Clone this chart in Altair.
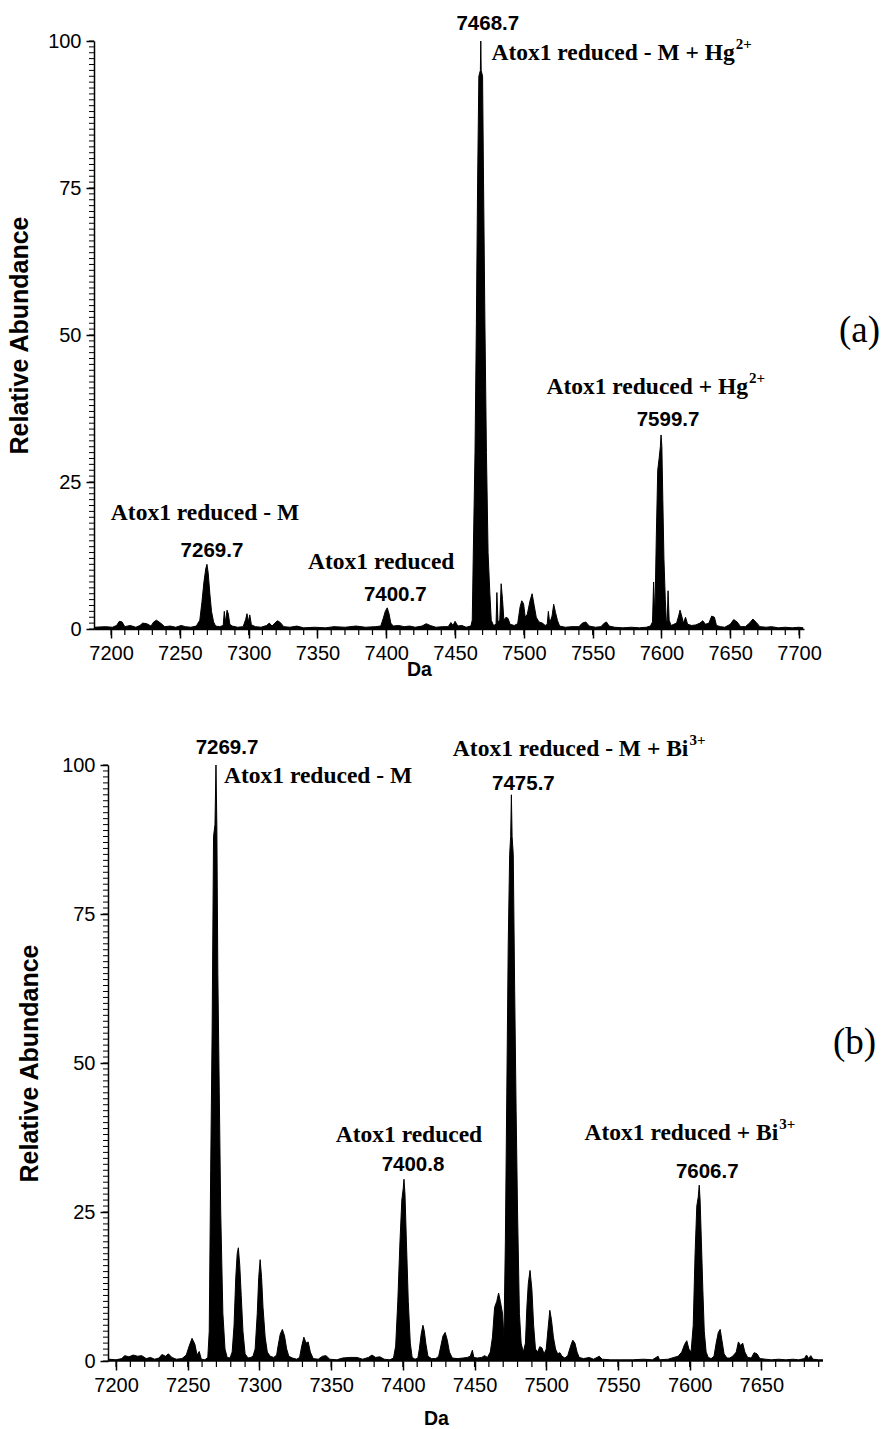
import altair as alt
import pandas as pd

# ---------------- spectrum (a): Atox1 + Hg2+ ----------------
A_MASS = [7188, 7196, 7201, 7204, 7206, 7208, 7210, 7214, 7218, 7221, 7223, 7226, 7229, 7231, 7233, 7236,
          7239, 7243, 7247, 7251, 7254, 7258, 7262, 7264.5, 7266, 7267.5, 7268.8, 7269.7, 7270.6, 7271.8,
          7273, 7274.5, 7276, 7279, 7281.5, 7282.3, 7283, 7284.3, 7285.2, 7286.3, 7288, 7292, 7296, 7297.8,
          7298.8, 7299.8, 7300.8, 7302, 7305, 7309, 7313, 7315, 7317, 7319, 7321, 7323, 7325.5, 7330, 7335,
          7340, 7348, 7356, 7362, 7370, 7378, 7385, 7392, 7396, 7397.8, 7399.3, 7400.7, 7402, 7403.3, 7405,
          7409, 7413, 7417, 7421, 7426, 7429, 7432, 7436, 7441, 7445, 7447, 7448.5, 7450, 7452, 7455, 7458,
          7461.5, 7462.5, 7463.2, 7464.5, 7465.5, 7466.4, 7467.3, 7468.4, 7468.7, 7469.0, 7470.0, 7470.7,
          7471.7, 7472.8, 7474, 7475.3, 7476.3, 7478, 7479.8, 7480.4, 7481.2, 7482.5, 7483.5, 7484.5, 7485.5,
          7487, 7488.5, 7490, 7493, 7495.5, 7497.3, 7498.5, 7499.8, 7501, 7502.5, 7504.5, 7506, 7507.5, 7509,
          7511, 7513.5, 7515.5, 7517, 7517.8, 7518.8, 7520.5, 7521.7, 7523, 7524.5, 7526, 7530, 7535, 7540,
          7542.5, 7545, 7547.5, 7552, 7556, 7558.5, 7560, 7562, 7566, 7572, 7578, 7584, 7589, 7592, 7593.5,
          7594.3, 7595.2, 7596.3, 7597.3, 7598.3, 7599.2, 7599.7, 7600.3, 7601, 7601.8, 7602.8, 7603.5,
          7604.2, 7604.8, 7605.6, 7607, 7609, 7611, 7612.5, 7613.5, 7614.5, 7616, 7617.5, 7619, 7622, 7625,
          7628, 7630, 7632, 7634.5, 7636.5, 7638.5, 7640, 7643, 7646, 7650, 7652.5, 7655, 7657.5, 7661, 7664,
          7666.5, 7669, 7671.5, 7676, 7680, 7685, 7690, 7695, 7700, 7703]
A_ABUND = [0.3, 0.4, 0.3, 0.6, 1.3, 1.2, 0.4, 0.6, 0.3, 0.6, 1.0, 0.9, 0.5, 1.2, 1.5, 1.0,
           0.4, 0.5, 0.3, 0.6, 0.4, 0.3, 0.5, 1.5, 4.5, 8.0, 10.2, 11.0, 9.5, 6.0,
           3.0, 1.2, 0.5, 0.4, 0.6, 3.0, 1.0, 3.2, 2.6, 0.8, 0.5, 0.3, 0.4, 1.6,
           2.6, 1.2, 2.4, 0.7, 0.4, 0.3, 0.6, 1.0, 0.5, 1.0, 1.4, 1.1, 0.4, 0.3, 0.5,
           0.2, 0.3, 0.2, 0.4, 0.3, 0.5, 0.3, 0.4, 0.5, 1.8, 3.0, 3.6, 2.6, 1.0, 0.5,
           0.6, 0.4, 0.5, 0.3, 0.5, 0.9, 0.6, 0.3, 0.4, 0.4, 1.1, 0.6, 1.3, 0.5, 0.6, 0.3,
           0.5, 1.5, 12, 30, 52, 76, 94, 95, 100, 95, 94, 76,
           52, 30, 13, 6, 1.5, 0.6, 0.8, 6.2, 1.2, 1.5, 7.7, 5.0, 1.5,
           2.0, 1.8, 0.8, 0.6, 0.9, 3.8, 4.8, 4.3, 2.0, 2.5, 4.8, 6.0, 4.0, 2.0,
           1.2, 1.0, 0.6, 0.8, 3.0, 1.0, 2.2, 4.2, 2.8, 1.4, 0.5, 0.3, 0.4, 0.4,
           1.0, 1.2, 0.5, 0.3, 0.4, 1.0, 1.2, 0.5, 0.3, 0.2, 0.3, 0.2, 0.3, 0.5, 1.2,
           8.0, 2.0, 16, 27, 29, 31, 33, 31, 22, 12, 5.0, 1.5,
           1.2, 6.5, 1.5, 0.6, 0.8, 1.0, 2.2, 3.2, 2.4, 1.0, 2.0, 0.8, 0.6, 0.7,
           1.0, 1.4, 0.8, 1.0, 2.2, 2.0, 0.6, 0.4, 0.3, 0.8, 1.6, 1.2, 0.4, 0.4, 1.0,
           1.7, 1.1, 0.4, 0.3, 0.4, 0.2, 0.3, 0.2, 0.3, 0.2]

A_PEAKS = [7269.7, 7400.7, 7468.7, 7599.7]
A_SPECIES = ["Atox1 reduced - M", "Atox1 reduced", "Atox1 reduced - M + Hg", "Atox1 reduced + Hg"]
A_CHARGE = ["", "", "2+", "2+"]

# ---------------- spectrum (b): Atox1 + Bi3+ ----------------
B_MASS = [7195, 7200, 7204, 7206, 7209, 7212, 7215, 7218, 7221, 7224, 7227, 7230, 7232, 7234.5, 7236.5,
          7239, 7242, 7246, 7249, 7251, 7253, 7255, 7256.5, 7258, 7259.5, 7262, 7264, 7265, 7266, 7267,
          7268, 7269, 7269.7, 7270.3, 7271, 7272, 7273, 7274.5, 7276, 7277.5, 7279.5, 7281, 7282.3, 7283.5,
          7284.5, 7285.3, 7286.3, 7287.3, 7288.5, 7290, 7292, 7294, 7295.5, 7297, 7298.5, 7299.5, 7300.5,
          7301.5, 7302.5, 7304, 7305.5, 7307.5, 7310, 7312, 7313, 7314.5, 7316, 7317.5, 7319, 7320.5, 7323,
          7326, 7328, 7329.5, 7331, 7332.5, 7334, 7335.5, 7337.5, 7341, 7344, 7346.5, 7349, 7354, 7358,
          7363, 7368, 7372, 7376, 7378.5, 7381, 7384, 7387, 7391, 7393.5, 7395, 7396.5, 7398, 7399.3,
          7400.3, 7400.8, 7401.5, 7402.5, 7403.8, 7405.2, 7406.5, 7408.5, 7410.5, 7411.5, 7412.8, 7414,
          7415, 7416, 7417.5, 7420, 7423, 7425, 7426.5, 7428, 7429.5, 7431, 7432.5, 7434.5, 7438, 7442,
          7445, 7447, 7448.5, 7449.5, 7452, 7455, 7457, 7459, 7461, 7462.5, 7464, 7465.5, 7466.8, 7468,
          7469.5, 7470.5, 7471.5, 7472.5, 7473.5, 7474.5, 7475.2, 7475.7, 7476.2, 7477, 7478, 7479, 7480,
          7481.3, 7482.5, 7484, 7485.5, 7486.5, 7487.5, 7488.7, 7490, 7491.2, 7492.5, 7494, 7495.5, 7497,
          7498.5, 7500, 7501.3, 7502.5, 7503.6, 7505, 7506.5, 7508, 7509.5, 7511, 7513, 7515, 7517, 7518.5,
          7520, 7521.5, 7523, 7526, 7530, 7533, 7537, 7539, 7545, 7552, 7560, 7568, 7574, 7578, 7579,
          7585, 7589, 7592, 7594.5, 7596.5, 7598, 7599.5, 7601, 7602.5, 7603.8, 7605, 7606, 7606.7, 7607.3,
          7608.2, 7609.2, 7610.2, 7611.5, 7613, 7615, 7617, 7618.5, 7620, 7621.3, 7622.5, 7624, 7626, 7628,
          7630, 7632.5, 7634, 7635.5, 7637, 7638.5, 7640.5, 7643, 7645, 7647, 7649, 7653, 7657, 7662, 7667,
          7672, 7676, 7680, 7681.5, 7683, 7684.5, 7686, 7690, 7693]
B_ABUND = [0.3, 0.2, 0.4, 0.9, 0.7, 1.0, 0.8, 0.9, 0.4, 0.6, 0.3, 0.5, 1.1, 0.8, 1.2,
           0.6, 0.3, 0.4, 1.0, 2.5, 3.8, 2.8, 1.0, 1.6, 0.3, 0.2, 0.6, 5, 32, 55,
           88, 90, 100, 90, 65, 45, 25, 8, 2, 0.6, 0.5, 1.5, 6, 14,
           18, 19, 16, 11, 5, 1.2, 0.5, 0.6, 0.8, 2, 8, 14, 17,
           14, 9, 4, 1.5, 0.8, 0.6, 1.0, 2.5, 4.5, 5.3, 4.2, 2, 0.8, 0.5,
           0.3, 0.6, 2.5, 4.0, 3.0, 3.2, 1.5, 0.4, 0.3, 0.8, 0.9, 0.3, 0.2, 0.5,
           0.6, 0.6, 0.3, 0.6, 1.0, 0.6, 0.7, 0.3, 0.2, 0.5, 2.5, 10, 20, 27,
           29, 30.5, 28, 20, 10, 3, 0.6, 0.3, 0.5, 2.0, 4.5, 6.0,
           5.0, 3.0, 0.8, 0.4, 0.4, 0.8, 2.5, 4.2, 4.8, 3.5, 1.5, 0.5, 0.4, 0.5,
           0.6, 0.8, 1.8, 0.6, 0.5, 0.6, 0.9, 0.6, 1.5, 4, 9, 10, 11.4, 10,
           8, 4, 20, 45, 70, 85, 88, 95, 88, 85, 62, 42, 25,
           8, 3, 1.5, 3, 9, 13, 15.2, 12, 6, 2, 1.5, 2.4, 2.2,
           1.2, 2, 5.5, 8.5, 7, 4, 2, 1.2, 1.4, 0.8, 0.5, 0.9, 2.5, 3.5,
           3, 1.5, 0.6, 0.4, 0.6, 0.3, 0.8, 0.3, 0.2, 0.2, 0.2, 0.3, 0.2, 0.8, 0.2,
           0.3, 0.6, 0.8, 1.5, 2.8, 3.4, 2.0, 1.5, 6, 18, 26, 27.5, 29.5, 27,
           20, 12, 5, 1.5, 0.6, 0.4, 0.8, 3, 4.8, 5.3, 3.5, 1.2, 0.5, 0.5,
           0.8, 1.5, 3.2, 2.6, 3.0, 1.5, 0.6, 0.5, 1.4, 1.2, 0.4, 0.3, 0.2, 0.3, 0.2,
           0.3, 0.2, 0.4, 1.0, 0.4, 0.9, 0.3, 0.2, 0.2]

B_PEAKS = [7269.7, 7400.8, 7475.7, 7606.7]
B_SPECIES = ["Atox1 reduced - M", "Atox1 reduced", "Atox1 reduced - M + Bi", "Atox1 reduced + Bi"]
B_CHARGE = ["", "", "3+", "3+"]

# axis ticks: labelled majors and unlabelled minors
A_X_MAJOR = [7200, 7250, 7300, 7350, 7400, 7450, 7500, 7550, 7600, 7650, 7700]
A_X_MINOR = list(range(7200, 7701, 10))
B_X_MAJOR = [7200, 7250, 7300, 7350, 7400, 7450, 7500, 7550, 7600, 7650]
B_X_MINOR = list(range(7200, 7691, 10))
Y_MAJOR = [0, 25, 50, 75, 100]
Y_MINOR = list(range(0, 101))

SANS = "Liberation Sans"
SERIF = "Liberation Serif"

# per-peak annotation placement (pixel offsets from the apex)
A_STYLE = [
    {"num": (5, -13), "name": ("center", -2, -51)},
    {"num": (8, -13), "name": ("center", -6, -46)},
    {"num": (7, -17), "name": ("right", 254, 12)},
    {"num": (7, -15), "name": ("right", 87, -48)},
]
B_STYLE = [
    {"num": (11, -17), "name": ("left", 8, 11)},
    {"num": (9, -14), "name": ("center", 5, -44)},
    {"num": (12, -11), "name": ("right", 177, -46)},
    {"num": (8, -13), "name": ("right", 79, -52)},
]


def panel(mass, abund, peaks, species, charge, style, domain, x_major, x_minor,
          width, height, ytitle_x, xtitle_xy, tag, tag_xy, axis_shift=0,
          baseline_span=None, pins=()):
    spec = pd.DataFrame({"mass": mass, "abund": abund})
    xs = alt.Scale(domain=domain, nice=False, zero=False)
    ys = alt.Scale(domain=[0, 100], nice=False)

    x_main = alt.X("mass:Q", title="Da", scale=xs, axis=alt.Axis(
        values=x_major, format="d", labelFont=SANS, labelFontSize=20, labelColor="black",
        labelPadding=5, labelOverlap=False, labelFlush=False, tickSize=9, tickWidth=1.5,
        tickColor="black", grid=False, domain=baseline_span is None,
        domainColor="black", domainWidth=1.5, orient="bottom",
        titleFont=SANS, titleFontSize=19.5, titleFontWeight="bold", titleColor="black",
        titleX=xtitle_xy[0], titleY=xtitle_xy[1], titleBaseline="middle"))
    y_main = alt.Y("abund:Q", title="Relative Abundance", scale=ys, axis=alt.Axis(
        values=Y_MAJOR, format="d", labelFont=SANS, labelFontSize=20, labelColor="black",
        labelPadding=5, labelOverlap=False, labelFlush=False, tickSize=8, tickWidth=1.5,
        tickColor="black", grid=False, domainColor="black", domainWidth=1.5,
        offset=axis_shift, orient="left",
        titleFont=SANS, titleFontSize=25, titleFontWeight="bold", titleColor="black",
        titleX=ytitle_x, titleY=height / 2, titleAngle=270,
        titleBaseline="middle", titleAlign="center"))
    x_none = alt.X("mass:Q", scale=xs, axis=None)
    y_none = alt.Y("abund:Q", scale=ys, axis=None)

    layers = [
        alt.Chart(spec).mark_area(
            color="black", opacity=1, interpolate="linear",
            line={"color": "black", "strokeWidth": 1},
        ).encode(x=x_main, y=y_main),
    ]

    # unlabelled minor ticks along both axes
    axis_x = -axis_shift
    ymin = pd.DataFrame({"v": Y_MINOR})
    layers.append(alt.Chart(ymin).mark_rule(color="black", strokeWidth=1).encode(
        y=alt.Y("v:Q", scale=ys, axis=None),
        x=alt.value(axis_x - 5), x2=alt.value(axis_x)))
    xmin = pd.DataFrame({"v": x_minor})
    layers.append(alt.Chart(xmin).mark_rule(color="black", strokeWidth=1.2).encode(
        x=alt.X("v:Q", scale=xs, axis=None),
        y=alt.value(height), y2=alt.value(height + 6)))

    if baseline_span is not None:
        bl = pd.DataFrame({"a": [baseline_span[0]], "b": [baseline_span[1]], "z": [0]})
        layers.append(alt.Chart(bl).mark_rule(color="black", strokeWidth=1.5).encode(
            x=alt.X("a:Q", scale=xs, axis=None), x2="b:Q",
            y=alt.Y("z:Q", scale=ys, axis=None)))

    for m, name, chg, st in zip(peaks, species, charge, style):
        h = abund[mass.index(m)]
        row = pd.DataFrame({"mass": [m], "abund": [h], "num": [f"{m:.1f}"],
                            "name": [name], "chg": [chg]})
        base = alt.Chart(row).encode(x=x_none, y=y_none)
        layers.append(base.mark_text(
            font=SANS, fontSize=20.5, fontWeight="bold", color="black",
            dx=st["num"][0], dy=st["num"][1], baseline="middle", align="center",
        ).encode(text="num:N"))
        align, ndx, ndy = st["name"]
        layers.append(base.mark_text(
            font=SERIF, fontSize=23.5, fontWeight="bold", color="black",
            dx=ndx, dy=ndy, baseline="middle", align=align,
        ).encode(text="name:N"))
        if chg:
            layers.append(base.mark_text(
                font=SERIF, fontSize=15, fontWeight="bold", color="black",
                dx=ndx + 1, dy=ndy - 9, baseline="middle", align="left",
            ).encode(text="chg:N"))

    tag_df = pd.DataFrame({"t": [tag]})
    layers.append(alt.Chart(tag_df).mark_text(
        font=SERIF, fontSize=37, color="black", align="left", baseline="middle",
    ).encode(text="t:N", x=alt.value(tag_xy[0]), y=alt.value(tag_xy[1])))
    # invisible anchors that fix the panel's outer extent
    for px, py in pins:
        layers.append(alt.Chart(tag_df).mark_rule(color="white", strokeWidth=0.5).encode(
            x=alt.value(px), x2=alt.value(px + 0.5), y=alt.value(py)))
    return alt.layer(*layers).resolve_axis(x="independent", y="independent").properties(
        width=width, height=height)


top = panel(A_MASS, A_ABUND, A_PEAKS, A_SPECIES, A_CHARGE, A_STYLE,
            [7187.6, 7703.6], A_X_MAJOR, A_X_MINOR, 710, 588,
            -75, (325, 40), "(a)", (745, 290),
            pins=[(-93, -40), (0, 643)])
bottom = panel(B_MASS, B_ABUND, B_PEAKS, B_SPECIES, B_CHARGE, B_STYLE,
               [7184.64, 7693.0], B_X_MAJOR, B_X_MINOR, 729, 596,
               -79, (342, 57), "(b)", (739, 278), axis_shift=-14,
               baseline_span=(7194.4, 7693.0), pins=[(0, -40)])

chart = (
    alt.vconcat(top, bottom, spacing=39)
    .properties(padding={"left": 0, "top": 0, "right": 0, "bottom": 0})
    .configure(background="white")
    .configure_view(stroke=None, strokeWidth=0)
)

chart.save("out.html", embed_options={"renderer": "svg", "actions": False})
